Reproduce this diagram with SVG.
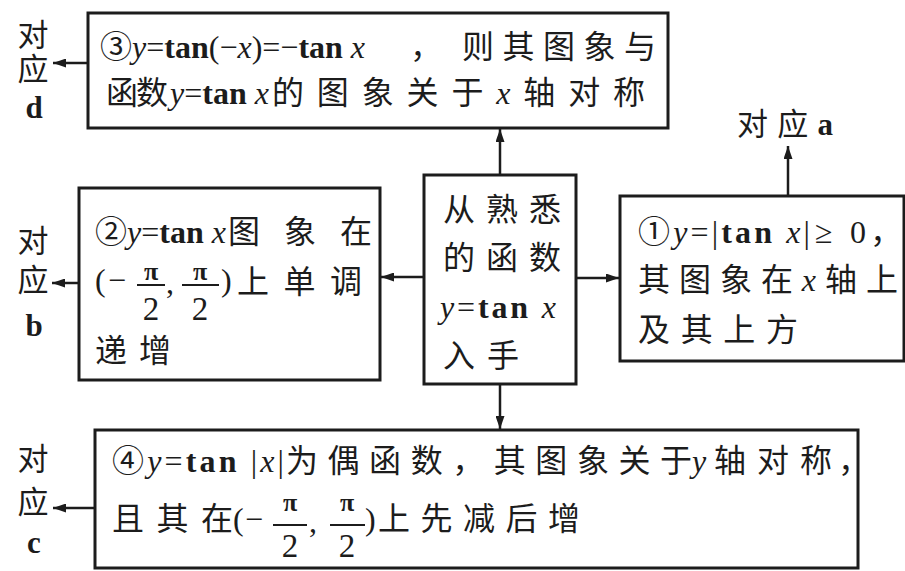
<svg xmlns="http://www.w3.org/2000/svg" width="905" height="571" viewBox="0 0 905 571">
<defs>
<style>
.bx{fill:#fff;stroke:#1c1c1c;stroke-width:3}
.t{font-family:"Liberation Serif","Noto Sans CJK SC",serif;font-size:32px;fill:#1c1c1c}
.i{font-style:italic}
.b{font-weight:bold}
.ln{stroke:#1c1c1c;stroke-width:2.5;fill:none}
.fb{stroke:#1c1c1c;stroke-width:2}
.pi{font-family:"Liberation Serif",serif;font-size:26px;font-weight:bold;fill:#1c1c1c}
.dn{font-family:"Liberation Serif",serif;font-size:33px;fill:#1c1c1c}
.lb{font-family:"Liberation Serif","Noto Sans CJK SC",serif;font-size:31px;fill:#1c1c1c}
</style>
<marker id="ah" markerUnits="userSpaceOnUse" markerWidth="13" markerHeight="9" refX="13" refY="4.5" orient="auto">
<path d="M0,0 L13,4.5 L0,9 z" fill="#1c1c1c"/>
</marker>
</defs>

<g id="connectors">
<line class="ln" x1="500" y1="175" x2="500" y2="129" marker-end="url(#ah)"/>
<line class="ln" x1="424" y1="277" x2="381" y2="277" marker-end="url(#ah)"/>
<line class="ln" x1="576" y1="278" x2="619" y2="278" marker-end="url(#ah)"/>
<line class="ln" x1="500" y1="384" x2="500" y2="429" marker-end="url(#ah)"/>
<line class="ln" x1="788" y1="196" x2="788" y2="146" marker-end="url(#ah)"/>
<line class="ln" x1="88" y1="63" x2="53" y2="63" marker-end="url(#ah)"/>
<line class="ln" x1="79" y1="283" x2="52" y2="283" marker-end="url(#ah)"/>
<line class="ln" x1="95" y1="508" x2="53" y2="508" marker-end="url(#ah)"/>
</g>

<g id="node3">
<rect class="bx" x="88" y="13" width="580" height="115"/>
<text class="t" x="100" y="58">③<tspan class="i">y</tspan>=<tspan class="b">tan</tspan>(−<tspan class="i">x</tspan>)=−<tspan class="b">tan</tspan> <tspan class="i">x</tspan></text>
<text class="t" x="410" y="58">，</text>
<text class="t" x="462" y="58" textLength="194" lengthAdjust="spacing">则其图象与</text>
<text class="t" x="106" y="104" textLength="62" lengthAdjust="spacing">函数</text>
<text class="t" x="170" y="104"><tspan class="i">y</tspan>=<tspan class="b">tan</tspan> <tspan class="i">x</tspan></text>
<text class="t" x="272" y="104" textLength="373" lengthAdjust="spacing">的图象关于<tspan class="i">x</tspan>轴对称</text>
</g>

<g id="node2">
<rect class="bx" x="79" y="188" width="301" height="192"/>
<text class="t" x="95" y="243">②<tspan class="i">y</tspan>=<tspan class="b">tan</tspan> <tspan class="i">x</tspan></text>
<text class="t" x="228" y="243" textLength="144" lengthAdjust="spacing">图象在</text>
<text class="t" x="95" y="291" font-size="33">(</text>
<text class="t" x="108" y="291">−</text>
<text class="pi" x="151" y="280" text-anchor="middle">π</text>
<line class="fb" x1="137" y1="285" x2="165" y2="285"/>
<text class="dn" x="151" y="320" text-anchor="middle">2</text>
<text class="t" x="166" y="293">,</text>
<text class="pi" x="200" y="280" text-anchor="middle">π</text>
<line class="fb" x1="182" y1="285" x2="219" y2="285"/>
<text class="dn" x="200" y="320" text-anchor="middle">2</text>
<text class="t" x="221" y="291" font-size="33">)</text>
<text class="t" x="237" y="293" textLength="125" lengthAdjust="spacing">上单调</text>
<text class="t" x="95" y="362" textLength="76" lengthAdjust="spacing">递增</text>
</g>

<g id="node0">
<rect class="bx" x="424" y="175" width="152" height="209"/>
<text class="t" x="443" y="221" textLength="118" lengthAdjust="spacing">从熟悉</text>
<text class="t" x="443" y="269" textLength="118" lengthAdjust="spacing">的函数</text>
<text class="t" x="440" y="318" textLength="116" lengthAdjust="spacing"><tspan class="i">y</tspan>=<tspan class="b">tan</tspan> <tspan class="i">x</tspan></text>
<text class="t" x="443" y="367" textLength="76" lengthAdjust="spacing">入手</text>
</g>

<g id="node1">
<rect class="bx" x="620" y="196" width="284" height="165"/>
<text class="t" x="638" y="243" textLength="172" lengthAdjust="spacing">①<tspan class="i">y</tspan>=|<tspan class="b">tan</tspan> <tspan class="i">x</tspan>|</text>
<text class="t" x="815" y="243" font-size="36">≥</text>
<text class="t" x="850" y="243" font-size="33">0</text>
<text class="t" x="870" y="243" font-size="26">，</text>
<text class="t" x="638" y="291" textLength="260" lengthAdjust="spacing">其图象在<tspan class="i">x</tspan>轴上</text>
<text class="t" x="638" y="341" textLength="160" lengthAdjust="spacing">及其上方</text>
</g>

<g id="node4">
<rect class="bx" x="95" y="430" width="763" height="138"/>
<text class="t" x="112" y="472" textLength="172" lengthAdjust="spacing">④<tspan class="i">y</tspan>=<tspan class="b">tan</tspan> |<tspan class="i">x</tspan>|</text>
<text class="t" x="286" y="472" textLength="406" lengthAdjust="spacing">为偶函数，其图象关于</text>
<text class="t i" x="692" y="472">y</text>
<text class="t" x="714" y="472" textLength="118" lengthAdjust="spacing">轴对称</text>
<text class="t" x="838" y="472">，</text>
<text class="t" x="112" y="530" textLength="121" lengthAdjust="spacing">且其在</text>
<text class="t" x="233" y="530" font-size="33">(</text>
<text class="t" x="245" y="530">−</text>
<text class="pi" x="290" y="511" text-anchor="middle">π</text>
<line class="fb" x1="273" y1="525" x2="307" y2="525"/>
<text class="dn" x="290" y="557" text-anchor="middle">2</text>
<text class="t" x="309" y="532">,</text>
<text class="pi" x="347" y="511" text-anchor="middle">π</text>
<line class="fb" x1="330" y1="525" x2="365" y2="525"/>
<text class="dn" x="347" y="557" text-anchor="middle">2</text>
<text class="t" x="365" y="530" font-size="33">)</text>
<text class="t" x="378" y="530" textLength="202" lengthAdjust="spacing">上先减后增</text>
</g>

<g id="label-a">
<text class="lb" x="737" y="135" textLength="96" lengthAdjust="spacing">对应<tspan class="b">a</tspan></text>
</g>
<g id="label-d">
<text class="lb" x="33" y="46" text-anchor="middle">对</text>
<text class="lb" x="33" y="80" text-anchor="middle">应</text>
<text class="lb b" x="34" y="118" text-anchor="middle">d</text>
</g>
<g id="label-b">
<text class="lb" x="33" y="252" text-anchor="middle">对</text>
<text class="lb" x="33" y="291" text-anchor="middle">应</text>
<text class="lb b" x="34" y="336" text-anchor="middle">b</text>
</g>
<g id="label-c">
<text class="lb" x="33" y="470" text-anchor="middle">对</text>
<text class="lb" x="33" y="513" text-anchor="middle">应</text>
<text class="lb b" x="34" y="553" text-anchor="middle">c</text>
</g>
</svg>
